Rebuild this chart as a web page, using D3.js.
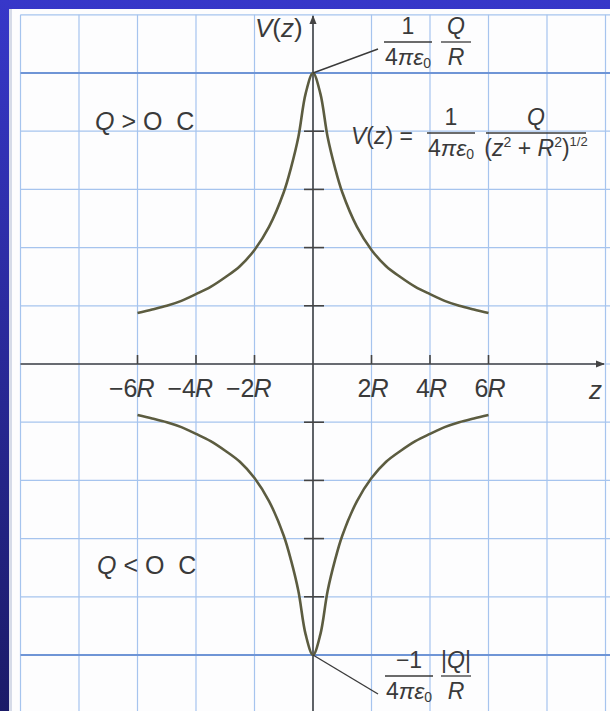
<!DOCTYPE html>
<html>
<head>
<meta charset="utf-8">
<script src="https://cdn.jsdelivr.net/npm/d3@7"></script>
<style>
  body { margin: 0; background: #fff; }
  svg { display: block; }
  text { font-family: "Liberation Sans", Arial, sans-serif; fill: #3a3a3a; }
</style>
</head>
<body>
<div id="app"></div>
<script>
const width = 610,
  height = 711;

// positions along z, in units of R
const zPoints = [-6, -5.5, -5, -4.5, -4, -3.5, -3, -2.5, -2, -1.5, -1, -0.75, -0.5, -0.25, 0,
  0.25, 0.5, 0.75, 1, 1.5, 2, 2.5, 3, 3.5, 4, 4.5, 5, 5.5, 6];
// V(z) for Q > 0, in units of Q / (4 pi eps0 R)
const vPositive = [0.175, 0.187, 0.2, 0.217, 0.24, 0.265, 0.298, 0.336, 0.392, 0.472, 0.59, 0.675, 0.78, 0.93, 1,
  0.93, 0.78, 0.675, 0.59, 0.472, 0.392, 0.336, 0.298, 0.265, 0.24, 0.217, 0.2, 0.187, 0.175];
// V(z) for Q < 0
const vNegative = [-0.175, -0.187, -0.2, -0.217, -0.24, -0.265, -0.298, -0.336, -0.392, -0.472, -0.59, -0.675, -0.78, -0.93, -1,
  -0.93, -0.78, -0.675, -0.59, -0.472, -0.392, -0.336, -0.298, -0.265, -0.24, -0.217, -0.2, -0.187, -0.175];

const zTicks = [-6, -4, -2, 2, 4, 6];
const zTickLabels = ["\u22126", "\u22124", "\u22122", "2", "4", "6"];
const zGrid = [-10, -8, -6, -4, -2, 0, 2, 4, 6, 8, 10];
const vGrid = [-1, -0.8, -0.6, -0.4, -0.2, 0, 0.2, 0.4, 0.6, 0.8, 1, 1.2];
const vTicks = [-0.8, -0.6, -0.4, -0.2, 0.2, 0.4, 0.6, 0.8];

const x = d3.scaleLinear().domain([-10, 10]).range([20.5, 605.5]);
const y = d3.scaleLinear().domain([-1, 1]).range([655, 73]);

const svg = d3.select("#app").append("svg")
  .attr("width", width)
  .attr("height", height);

const defs = svg.append("defs");
const grad = defs.append("linearGradient").attr("id", "frame")
  .attr("x1", 0).attr("y1", 0).attr("x2", 0).attr("y2", 1);
grad.append("stop").attr("offset", "0%").attr("stop-color", "#3737c9");
grad.append("stop").attr("offset", "100%").attr("stop-color", "#1b1b68");

defs.append("marker")
  .attr("id", "arrow")
  .attr("viewBox", "0 0 10 10")
  .attr("refX", 9).attr("refY", 5)
  .attr("markerWidth", 9).attr("markerHeight", 9)
  .attr("markerUnits", "userSpaceOnUse")
  .attr("orient", "auto")
  .append("path")
  .attr("d", "M0,1 L10,5 L0,9 Z")
  .attr("fill", "#444");

// blue slide frame
svg.append("rect").attr("width", width).attr("height", height).attr("fill", "url(#frame)");
svg.append("rect").attr("x", 9).attr("y", 9).attr("width", width - 9).attr("height", height - 9)
  .attr("fill", "#fdfdfe");
svg.append("rect").attr("x", 9).attr("y", 9).attr("width", 3).attr("height", height - 9)
  .attr("fill", "#d6dbe8");

// grid paper
const grid = svg.append("g").attr("stroke", "#a6c4ee").attr("stroke-width", 1.2);
grid.selectAll("line.v").data(zGrid).join("line")
  .attr("x1", d => x(d)).attr("x2", d => x(d))
  .attr("y1", y(1.2)).attr("y2", height);
grid.selectAll("line.h").data(vGrid).join("line")
  .attr("x1", x(-10)).attr("x2", width)
  .attr("y1", d => y(d)).attr("y2", d => y(d))
  .attr("stroke", d => Math.abs(d) === 1 ? "#6f95d6" : "#a6c4ee")
  .attr("stroke-width", d => Math.abs(d) === 1 ? 2 : 1.2);

// axes
const axes = svg.append("g").attr("stroke", "#444").attr("stroke-width", 1.6);
axes.append("line")
  .attr("x1", x(-10)).attr("x2", 604)
  .attr("y1", y(0)).attr("y2", y(0))
  .attr("marker-end", "url(#arrow)");
axes.append("line")
  .attr("x1", x(0)).attr("x2", x(0))
  .attr("y1", height).attr("y2", 16)
  .attr("marker-end", "url(#arrow)");
axes.selectAll("line.zt").data(zTicks).join("line")
  .attr("x1", d => x(d)).attr("x2", d => x(d))
  .attr("y1", y(0) - 9).attr("y2", y(0));
axes.selectAll("line.vt").data(vTicks).join("line")
  .attr("x1", x(0) - 9).attr("x2", x(0) + 11)
  .attr("y1", d => y(d)).attr("y2", d => y(d));

// tick labels: numeral ends on the grid line, R starts there
const tl = svg.append("g").attr("font-size", 25);
zTicks.forEach((d, i) => {
  tl.append("text").attr("x", x(d)).attr("y", 397).attr("text-anchor", "end").text(zTickLabels[i]);
  tl.append("text").attr("x", x(d) - 1).attr("y", 397).attr("font-style", "italic").text("R");
});
svg.append("text").attr("x", 589).attr("y", 399).attr("font-size", 26).attr("font-style", "italic").text("z");
svg.append("text").attr("x", 255).attr("y", 37).attr("font-size", 26).attr("font-style", "italic")
  .html('V<tspan font-style="normal">(</tspan>z<tspan font-style="normal">)</tspan>');

// curves
const line = d3.line().x(d => x(d[0])).y(d => y(d[1])).curve(d3.curveCatmullRom.alpha(0.5));
const curves = svg.append("g").attr("fill", "none").attr("stroke", "#5c5c40").attr("stroke-width", 2.6);
curves.append("path").attr("d", line(zPoints.map((z, i) => [z, vPositive[i]])));
curves.append("path").attr("d", line(zPoints.map((z, i) => [z, vNegative[i]])));

// leader lines
const leaders = svg.append("g").attr("stroke", "#3a3a3a").attr("stroke-width", 1.4);
leaders.append("line").attr("x1", x(0)).attr("y1", y(1)).attr("x2", 378).attr("y2", 49);
leaders.append("line").attr("x1", x(0)).attr("y1", y(-1)).attr("x2", 378).attr("y2", 694);

// fraction helper
function frac(g, cx, barY, w, num, den, size) {
  g.append("text").attr("x", cx).attr("y", barY - 8).attr("text-anchor", "middle")
    .attr("font-size", size).html(num);
  g.append("line").attr("x1", cx - w / 2).attr("x2", cx + w / 2)
    .attr("y1", barY).attr("y2", barY).attr("stroke", "#3a3a3a").attr("stroke-width", 1.3);
  g.append("text").attr("x", cx).attr("y", barY + 23).attr("text-anchor", "middle")
    .attr("font-size", size).html(den);
}
const fourPiEps = '4<tspan font-style="italic">\u03c0\u03b5</tspan><tspan font-size="14" dy="3">0</tspan>';

const ann = svg.append("g");
frac(ann, 408, 42, 48, "1", fourPiEps, 23);
frac(ann, 456, 42, 30, '<tspan font-style="italic">Q</tspan>', '<tspan font-style="italic">R</tspan>', 23);

ann.append("text").attr("x", 351).attr("y", 144).attr("font-size", 23)
  .html('<tspan font-style="italic">V</tspan>(<tspan font-style="italic">z</tspan>) =');
frac(ann, 451, 133, 48, "1", fourPiEps, 23);
frac(ann, 536, 133, 100, '<tspan font-style="italic">Q</tspan>',
  '(<tspan font-style="italic">z</tspan><tspan font-size="14" dy="-9">2</tspan><tspan dy="9"> + </tspan><tspan font-style="italic">R</tspan><tspan font-size="14" dy="-9">2</tspan><tspan dy="9">)</tspan><tspan font-size="13" dy="-10">1/2</tspan>', 23);

frac(ann, 409, 676, 48, "\u22121", fourPiEps, 23);
frac(ann, 456, 676, 30, '|<tspan font-style="italic">Q</tspan>|', '<tspan font-style="italic">R</tspan>', 23);

// charge labels
ann.append("text").attr("x", 95).attr("y", 130).attr("font-size", 25)
  .attr("xml:space", "preserve")
  .html('<tspan font-style="italic">Q</tspan> &gt; O  C');
ann.append("text").attr("x", 97).attr("y", 574).attr("font-size", 25)
  .attr("xml:space", "preserve")
  .html('<tspan font-style="italic">Q</tspan> &lt; O  C');
</script>
</body>
</html>
